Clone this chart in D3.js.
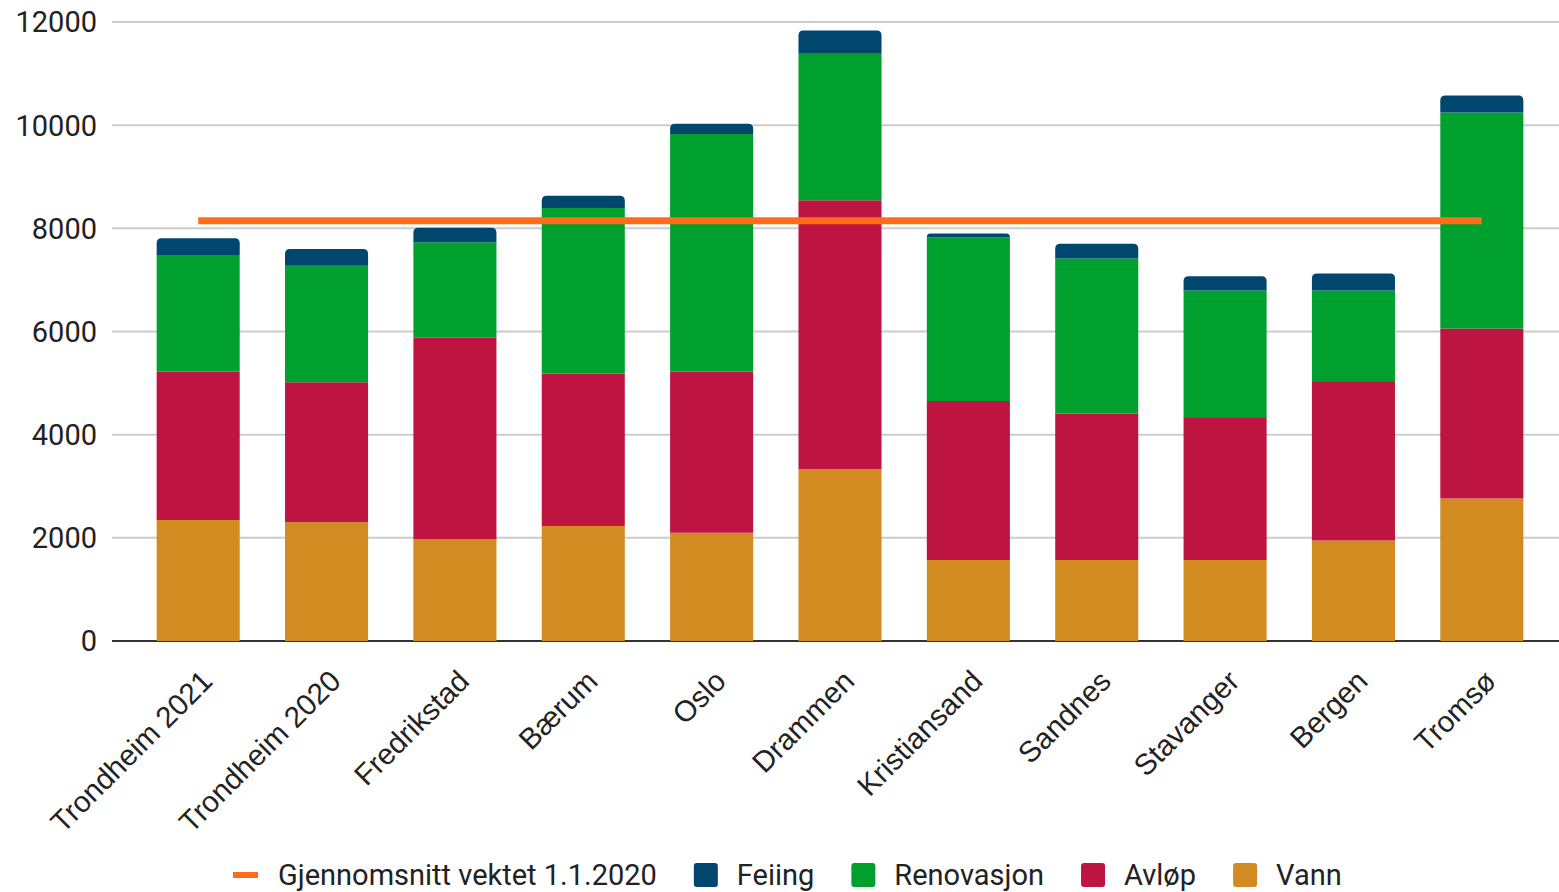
<!DOCTYPE html>
<html>
<head>
<meta charset="utf-8">
<script src="https://cdn.jsdelivr.net/npm/d3@7"></script>
<style>
  body { margin: 0; background: #fff; }
  svg { display: block; }
</style>
</head>
<body>
<div id="chart"></div>
<script>
// data
const cities = ["Trondheim 2021", "Trondheim 2020", "Fredrikstad", "Bærum", "Oslo",
  "Drammen", "Kristiansand", "Sandnes", "Stavanger", "Bergen", "Tromsø"];
const vann       = [2346, 2301, 1978, 2230, 2098, 3335, 1572, 1572, 1572, 1946, 2761];
const avlop      = [2875, 2715, 3902, 2954, 3125, 5211, 3083, 2837, 2753, 3077, 3296];
const renovasjon = [2262, 2260, 1850, 3211, 4608, 2838, 3172, 3005, 2468, 1770, 4187];
const feiing     = [324, 324, 283, 236, 196, 452, 71, 285, 278, 330, 330];
const snitt = 8145;
const yTicks = [0, 2000, 4000, 6000, 8000, 10000, 12000];

const seriesNames = ["Vann", "Avløp", "Renovasjon", "Feiing"];
const seriesColors = ["#d18b20", "#be1442", "#00a02f", "#00466e"];
const lineName = "Gjennomsnitt vektet 1.1.2020";
const lineColor = "#ff6d1a";

const svgWidth = 1559;
const svgHeight = 892;

const svg = d3.select("#chart")
  .append("svg")
  .attr("width", svgWidth)
  .attr("height", svgHeight);

const rows = cities.map((c, i) => ({
  city: c,
  Vann: vann[i],
  "Avløp": avlop[i],
  Renovasjon: renovasjon[i],
  Feiing: feiing[i]
}));

const x = d3.scaleBand()
  .domain(cities)
  .range([134, 1546])
  .paddingInner(0.353)
  .paddingOuter(0.1765);

const y = d3.scaleLinear()
  .domain([0, 12000])
  .range([641, 22]);

// gridlines + y labels
const grid = svg.append("g");
grid.selectAll("line")
  .data(yTicks)
  .enter()
  .append("line")
  .attr("x1", 112)
  .attr("x2", svgWidth)
  .attr("y1", d => y(d))
  .attr("y2", d => y(d))
  .attr("stroke", d => d === 0 ? "#333" : "#cccccc")
  .attr("stroke-width", 2);

grid.selectAll("text")
  .data(yTicks)
  .enter()
  .append("text")
  .attr("x", 97)
  .attr("y", d => y(d))
  .attr("dy", "0.36em")
  .attr("text-anchor", "end")
  .attr("font-family", "Roboto, sans-serif")
  .attr("font-size", 29)
  .attr("fill", "#222")
  .text(d => d);

// stacked bars
const stack = d3.stack().keys(seriesNames);
const stacked = stack(rows);
const r = 5;

stacked.forEach((layer, li) => {
  const isTop = li === stacked.length - 1;
  svg.append("g")
    .selectAll("path")
    .data(layer)
    .enter()
    .append("path")
    .attr("fill", seriesColors[li])
    .attr("d", d => {
      const x0 = x(d.data.city), x1 = x0 + x.bandwidth();
      const yt = y(d[1]), yb = y(d[0]);
      if (!isTop) return `M${x0},${yb}V${yt}H${x1}V${yb}Z`;
      const rr = Math.min(r, (yb - yt));
      return `M${x0},${yb}V${yt + rr}Q${x0},${yt} ${x0 + rr},${yt}H${x1 - rr}Q${x1},${yt} ${x1},${yt + rr}V${yb}Z`;
    });
});

// average line
const first = cities[0], last = cities[cities.length - 1];
svg.append("line")
  .attr("x1", x(first) + x.bandwidth() / 2)
  .attr("x2", x(last) + x.bandwidth() / 2)
  .attr("y1", y(snitt))
  .attr("y2", y(snitt))
  .attr("stroke", lineColor)
  .attr("stroke-width", 7);

// x labels
svg.append("g")
  .selectAll("text")
  .data(cities)
  .enter()
  .append("text")
  .attr("transform", d => `translate(${x(d) + x.bandwidth() / 2 + 16}, 683) rotate(-45)`)
  .attr("text-anchor", "end")
  .attr("font-family", "'Liberation Sans', Arial, sans-serif")
  .attr("font-size", 29.5)
  .attr("fill", "#222")
  .text(d => d);

// legend
const legendItems = [{ name: lineName, color: lineColor, line: true }]
  .concat(seriesNames.slice().reverse().map(n => ({ name: n, color: seriesColors[seriesNames.indexOf(n)], line: false })));

const legend = svg.append("g");
let lx = 0;
const ly = 875;
const gap = 37;
legendItems.forEach(item => {
  const g = legend.append("g").attr("transform", `translate(${lx},0)`);
  if (item.line) {
    g.append("rect").attr("x", 0).attr("y", ly - 3).attr("width", 25).attr("height", 6)
      .attr("fill", item.color);
  } else {
    g.append("rect").attr("x", 0).attr("y", ly - 12).attr("width", 24).attr("height", 24)
      .attr("rx", 3).attr("fill", item.color);
  }
  const t = g.append("text")
    .attr("x", item.line ? 45 : 43)
    .attr("y", ly)
    .attr("dy", "0.36em")
    .attr("font-family", "Roboto, sans-serif")
    .attr("font-size", 29)
    .attr("fill", "#222")
    .text(item.name);
  const w = t.node().getComputedTextLength();
  lx += (item.line ? 45 : 43) + w + gap;
});
const totalW = lx - gap;
legend.attr("transform", `translate(${233},0)`);
</script>
</body>
</html>
